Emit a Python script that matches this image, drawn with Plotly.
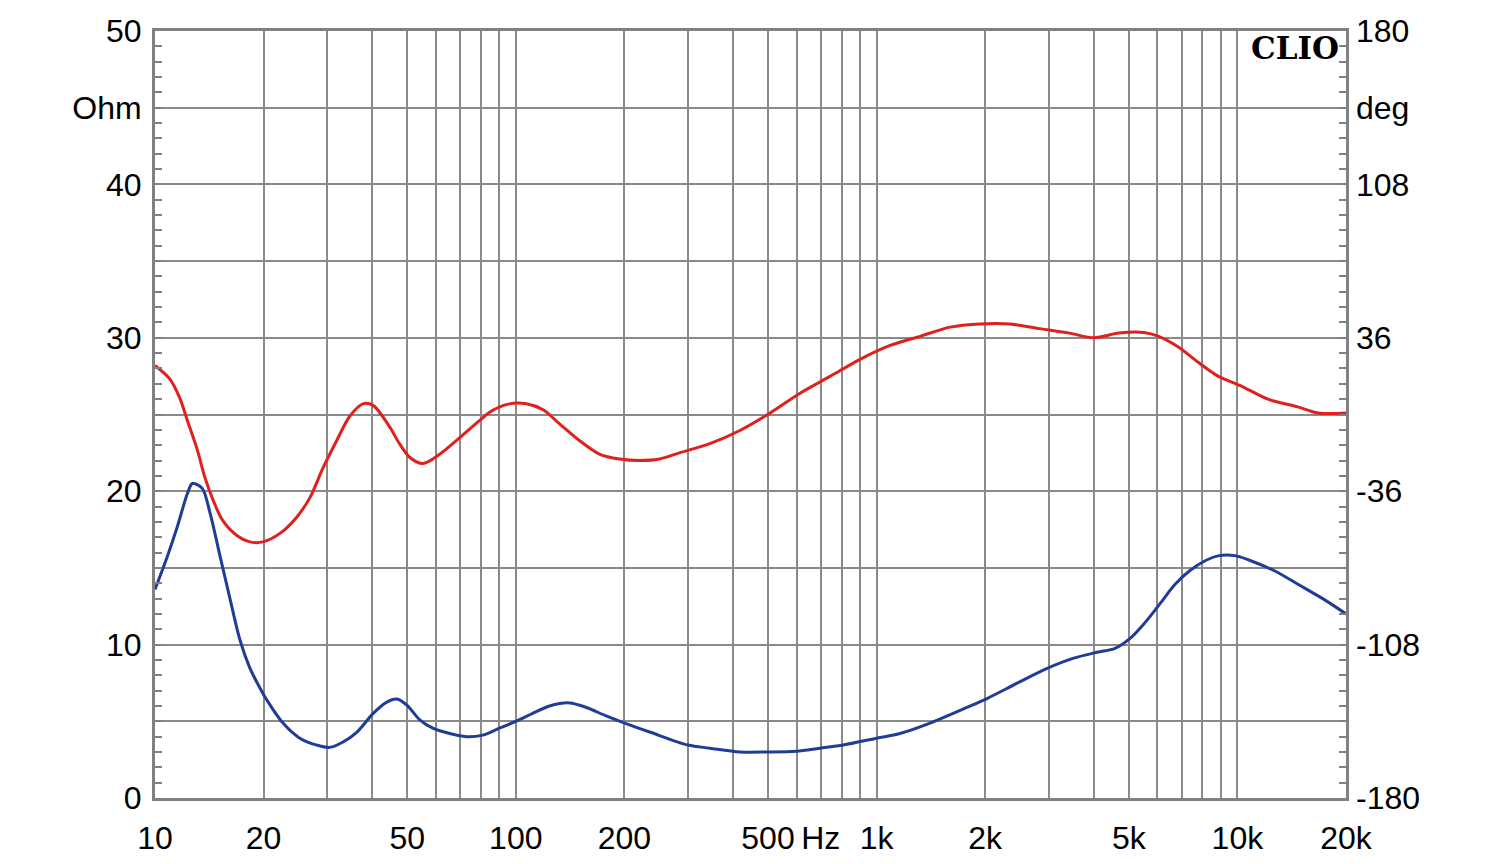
import plotly.graph_objects as go

# Impedance (blue, Ohm, left axis)
imp_freq = [10, 10.8, 11.5, 12.3, 12.7, 13.5, 14.2, 15.1, 16.1, 17.2, 18.3, 19.5, 20.4, 22.6, 25.2, 28.1,
            30.5, 33.2, 36.3, 40.2, 43.9, 46.8, 49.9, 54.2, 58.9, 65.6, 73, 81, 90, 100, 111, 124, 141,
            157, 178, 202, 235, 300, 345, 418, 496, 600, 696, 808, 1000, 1160, 1430, 1780, 2030, 2460,
            2970, 3500, 4080, 4580, 5040, 5530, 6120, 6700, 7360, 8190, 8900, 9840, 10800, 12700, 14800,
            17500, 20000]
imp_ohm = [13.6, 15.7, 17.6, 19.85, 20.5, 20.2, 18.6, 15.9, 13.1, 10.3, 8.5, 7.2, 6.4, 4.9, 3.9, 3.45,
           3.3, 3.65, 4.3, 5.5, 6.25, 6.45, 6.05, 5.1, 4.55, 4.2, 4.0, 4.1, 4.55, 5.0, 5.5, 6.0, 6.2,
           5.9, 5.35, 4.85, 4.3, 3.45, 3.25, 3.0, 3.0, 3.05, 3.25, 3.45, 3.9, 4.2, 4.95, 5.9, 6.5, 7.5,
           8.45, 9.1, 9.5, 9.75, 10.4, 11.4, 12.7, 13.9, 14.8, 15.5, 15.8, 15.8, 15.5, 14.8, 13.9,
           12.9, 12.0]

# Phase (red, deg, right axis)
ph_freq = [10, 11.0, 11.7, 12.3, 13.1, 13.75, 14.5, 15.4, 16.9, 18.3, 19.9, 22.2, 24.7, 26.9, 29.2, 31.9,
           34.7, 37.7, 40.2, 44.7, 47.6, 50.9, 55.2, 61.5, 70, 79.3, 86, 96, 107, 119, 132, 150, 171,
           194, 220, 250, 284, 345, 418, 507, 615, 745, 900, 1090, 1320, 1600, 1940, 2340, 2830, 3420,
           4010, 4690, 5500, 6050, 6860, 7790, 8840, 10350, 12150, 14700, 16700, 20000]
ph_deg = [23.0, 16.6, 7.9, -2.9, -16.6, -29.5, -40.3, -49.7, -56.9, -59.8, -59.8, -55.8, -48.2, -38.9,
          -25.2, -12.2, -0.7, 5.0, 4.3, -5.8, -13.7, -20.2, -23.0, -18.7, -10.8, -2.9, 1.8, 5.0, 5.0,
          2.2, -4.3, -12.2, -18.7, -20.9, -21.6, -20.9, -18.0, -13.7, -7.5, 0.7, 10.1, 18.0, 25.9, 32.4,
          36.7, 41.0, 42.5, 42.5, 40.3, 38.2, 36.0, 38.2, 38.5, 36.7, 31.7, 24.5, 18.0, 13.0, 7.2, 3.6,
          0.7, 0.7]

# Axis ticks
x_grid = [m * 10 ** d for d in range(1, 5) for m in range(1, 10)] + [20000]
x_labels = {10: "10", 20: "20", 50: "50", 100: "100", 200: "200", 500: "500", 700: "Hz",
            1000: "1k", 2000: "2k", 5000: "5k", 10000: "10k", 20000: "20k"}
x_text = [x_labels.get(v, "") for v in x_grid]
y_vals = [0, 5, 10, 15, 20, 25, 30, 35, 40, 45, 50]
y_text = ["0", "", "10", "", "20", "", "30", "", "40", "Ohm", "50"]
y2_vals = [-180, -144, -108, -72, -36, 0, 36, 72, 108, 144, 180]
y2_text = ["-180", "", "-108", "", "-36", "", "36", "", "108", "deg", "180"]

GRID = "#8a8a8a"
FONT = dict(family="Liberation Sans, Arial, sans-serif", size=32, color="#000000")

fig = go.Figure()
fig.add_trace(go.Scatter(x=ph_freq, y=ph_deg, yaxis="y2", mode="lines",
                         line=dict(color="#e0201c", width=3, shape="spline", smoothing=0.9),
                         showlegend=False, hoverinfo="skip"))
fig.add_trace(go.Scatter(x=imp_freq, y=imp_ohm, mode="lines",
                         line=dict(color="#1f3c96", width=3, shape="spline", smoothing=0.9),
                         showlegend=False, hoverinfo="skip"))

fig.update_layout(
    width=1500, height=864,
    margin=dict(l=155, r=154, t=31, b=66),
    paper_bgcolor="white", plot_bgcolor="white",
    font=FONT,
    xaxis=dict(type="log", range=[1, 4.30103], tickmode="array", tickvals=x_grid, ticktext=x_text,
               showgrid=True, gridcolor=GRID, gridwidth=1.5, ticks="", showline=True,
               linecolor="#808080", linewidth=3, mirror=True, zeroline=False, automargin=False,
               ticklabelstandoff=10, tickfont=FONT),
    yaxis=dict(range=[0, 50], tickmode="array", tickvals=y_vals, ticktext=y_text,
               showgrid=True, gridcolor=GRID, gridwidth=1.5, zeroline=False, automargin=False,
               showline=True, linecolor="#808080", linewidth=3, mirror=True,
               ticks="inside", ticklen=7, tickcolor="#808080", tickwidth=1.5,
               minor=dict(dtick=1, tick0=0, ticks="inside", ticklen=7, tickcolor="#808080",
                          tickwidth=1.5, showgrid=False),
               ticklabelstandoff=4, tickfont=FONT),
    yaxis2=dict(range=[-180, 180], overlaying="y", side="right", tickmode="array",
                tickvals=y2_vals, ticktext=y2_text, showgrid=False, zeroline=False,
                showline=False, automargin=False, ticks="inside", ticklen=7, tickcolor="#808080",
                tickwidth=1.5,
                minor=dict(dtick=7.2, tick0=-180, ticks="inside", ticklen=7, tickcolor="#808080",
                           tickwidth=1.5, showgrid=False),
                ticklabelstandoff=9, tickfont=FONT),
    annotations=[dict(text="<b>CLIO</b>", xref="paper", yref="paper", x=0.9955, y=0.978,
                      xanchor="right", yanchor="middle", showarrow=False,
                      font=dict(family="DejaVu Serif, serif", size=31, color="#000000"))],
)

fig.write_html("out.html")
